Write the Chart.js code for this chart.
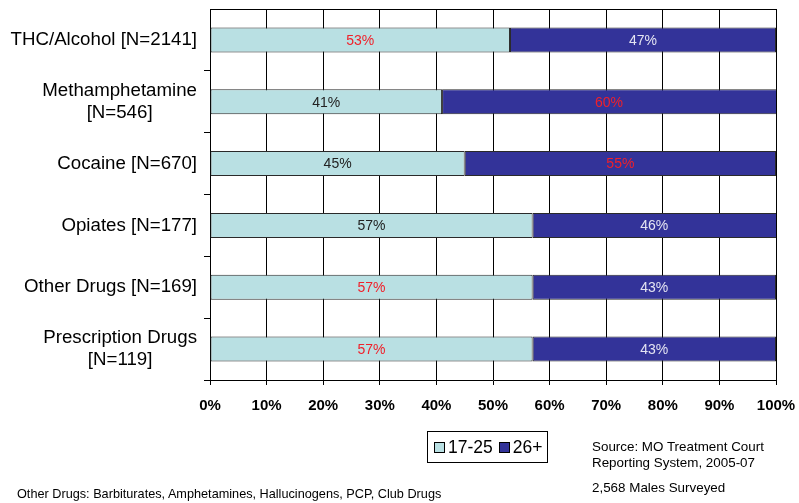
<!DOCTYPE html>
<html>
<head>
<meta charset="utf-8">
<script src="https://cdn.jsdelivr.net/npm/chart.js@4.4.1/dist/chart.umd.min.js"></script>
<style>
  body { margin: 0; background: #fff; }
  #wrap { position: relative; width: 799px; height: 503px; font-family: "Liberation Sans", Arial, sans-serif; color: #000; }
  #chart { position: absolute; left: 0; top: 0; }
  .legend { position: absolute; left: 427px; top: 431px; width: 119px; height: 30px; border: 1px solid #000;
            display: flex; align-items: center; font-size: 17.5px; box-sizing: content-box; }
  .legend .sw { display: inline-block; width: 9px; height: 9px; border: 1px solid #000; margin: 0 3px 0 6px; }
  .note { position: absolute; font-size: 13.4px; line-height: 16px; white-space: nowrap; }
</style>
</head>
<body>
<div id="wrap">
  <canvas id="chart" width="799" height="503"></canvas>
  <div class="legend" id="legend"></div>
  <div class="note" style="left:592px; top:439px;">Source: MO Treatment Court<br>Reporting System, 2005-07</div>
  <div class="note" style="left:592px; top:480px;">2,568 Males Surveyed</div>
  <div class="note" style="left:17px; top:486px; font-size:12.7px;">Other Drugs: Barbiturates, Amphetamines, Hallucinogens, PCP, Club Drugs</div>
</div>
<script>
// Drug categories (multi-line labels are arrays)
const categories = [
  "THC/Alcohol [N=2141]",
  ["Methamphetamine", "[N=546]"],
  "Cocaine [N=670]",
  "Opiates [N=177]",
  "Other Drugs [N=169]",
  ["Prescription Drugs", "[N=119]"]
];
// Share of each group by age (percent)
const age17to25 = [53, 41, 45, 57, 57, 57];
const age26plus = [47, 60, 55, 46, 43, 43];
const seriesNames = ["17-25", "26+"];
const xTicks = [0, 10, 20, 30, 40, 50, 60, 70, 80, 90, 100];

// Styling
const lightFill = "#B9E0E3";
const darkFill = "#333399";
const labelColors = [
  ["#F0202A", "#222222", "#222222", "#222222", "#F0202A", "#F0202A"],
  ["#E4E4F2", "#F0202A", "#F0202A", "#E4E4F2", "#E4E4F2", "#E4E4F2"]
];

const FONT = '"Liberation Sans", Arial, sans-serif';

// Category labels: single-line right-aligned, multi-line centred as a block
const categoryLabelPlugin = {
  id: "categoryLabels",
  afterDraw(chart) {
    const ctx = chart.ctx;
    const y = chart.scales.y;
    const rightX = 197;
    ctx.save();
    ctx.font = "18.7px " + FONT;
    ctx.fillStyle = "#000";
    ctx.textBaseline = "middle";
    categories.forEach((lab, i) => {
      const cy = y.getPixelForValue(i);
      if (Array.isArray(lab)) {
        const w = Math.max(...lab.map(s => ctx.measureText(s).width));
        const cx = rightX - w / 2;
        ctx.textAlign = "center";
        const lh = 22;
        lab.forEach((s, k) => {
          ctx.fillText(s, cx, cy + (k - (lab.length - 1) / 2) * lh);
        });
      } else {
        ctx.textAlign = "right";
        ctx.fillText(lab, rightX, cy);
      }
    });
    ctx.restore();
  }
};

// Top border of the plot area
const topLinePlugin = {
  id: "topLine",
  afterDraw(chart) {
    const a = chart.chartArea;
    const ctx = chart.ctx;
    ctx.save();
    ctx.strokeStyle = "#000";
    ctx.lineWidth = 1;
    ctx.beginPath();
    ctx.moveTo(a.left, Math.round(a.top) + 0.5);
    ctx.lineTo(a.right, Math.round(a.top) + 0.5);
    ctx.stroke();
    ctx.restore();
  }
};

// Percentage labels centred on each bar segment
const valueLabelPlugin = {
  id: "valueLabels",
  afterDatasetsDraw(chart) {
    const ctx = chart.ctx;
    const a = chart.chartArea;
    ctx.save();
    ctx.font = "14px " + FONT;
    ctx.textAlign = "center";
    ctx.textBaseline = "middle";
    chart.data.datasets.forEach((ds, di) => {
      const meta = chart.getDatasetMeta(di);
      meta.data.forEach((bar, i) => {
        const x0 = Math.max(a.left, Math.min(bar.base, bar.x));
        const x1 = Math.min(a.right, Math.max(bar.base, bar.x));
        ctx.fillStyle = labelColors[di][i];
        ctx.fillText(ds.data[i] + "%", (x0 + x1) / 2, bar.y + 1);
      });
    });
    ctx.restore();
  }
};

const chart = new Chart(document.getElementById("chart"), {
  type: "bar",
  data: {
    labels: categories,
    datasets: [
      { label: seriesNames[0], data: age17to25, backgroundColor: lightFill, borderColor: "#2a2a2a", borderWidth: 1, borderSkipped: false },
      { label: seriesNames[1], data: age26plus, backgroundColor: darkFill, borderColor: "#2a2a2a", borderWidth: 1, borderSkipped: false }
    ]
  },
  options: {
    indexAxis: "y",
    responsive: false,
    devicePixelRatio: 1,
    animation: false,
    layout: { padding: { top: 9, right: 23, left: 0, bottom: 0 } },
    datasets: { bar: { categoryPercentage: 1, barPercentage: 0.405 } },
    plugins: { legend: { display: false }, tooltip: { enabled: false } },
    scales: {
      x: {
        type: "linear",
        stacked: true,
        min: 0,
        max: 100,
        afterBuildTicks(scale) { scale.ticks = xTicks.map(v => ({ value: v })); },
        afterFit(scale) { scale.height = 123; scale.paddingLeft = 0; scale.paddingRight = 0; },
        ticks: {
          callback: v => v + "%",
          color: "#000",
          font: { family: FONT, size: 15, weight: "bold" },
          padding: 12,
          maxRotation: 0
        },
        grid: { color: "#000", lineWidth: 1, tickLength: 5, drawTicks: true },
        border: { display: true, color: "#000", width: 1 }
      },
      y: {
        type: "category",
        stacked: true,
        offset: true,
        afterFit(scale) { scale.width = 210; },
        ticks: { display: false },
        grid: {
          color: c => (c.index === 0 ? "rgba(0,0,0,0)" : "#000"),
          drawOnChartArea: false, drawTicks: true, tickLength: 6, offset: true
        },
        border: { display: true, color: "#000", width: 1 }
      }
    }
  },
  plugins: [categoryLabelPlugin, topLinePlugin, valueLabelPlugin]
});

// Legend built from the datasets
const legendEl = document.getElementById("legend");
chart.data.datasets.forEach(ds => {
  const sw = document.createElement("span");
  sw.className = "sw";
  sw.style.background = ds.backgroundColor;
  const t = document.createElement("span");
  t.textContent = ds.label;
  legendEl.appendChild(sw);
  legendEl.appendChild(t);
});
</script>
</body>
</html>
